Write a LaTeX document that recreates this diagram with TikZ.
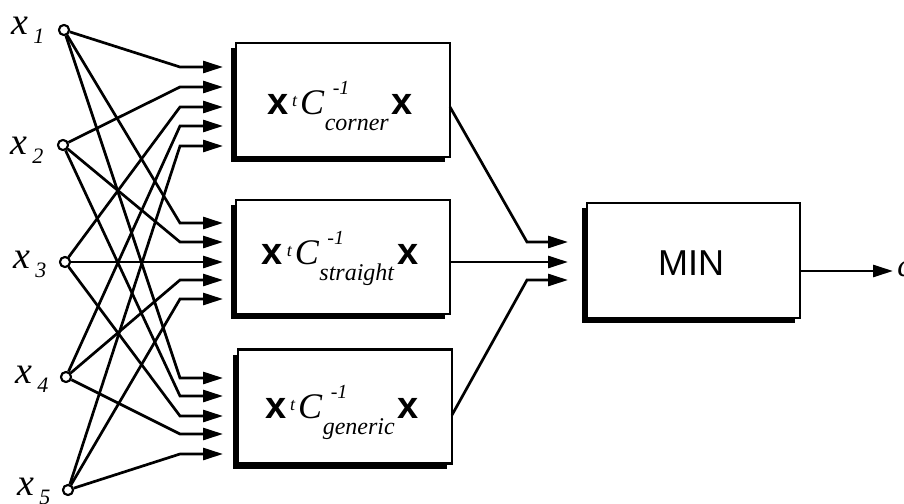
\documentclass[tikz,border=0pt]{standalone}
\usepackage{fontspec}
\setmainfont{Liberation Serif}
\setsansfont{Liberation Sans}
\usetikzlibrary{arrows.meta,calc,shadows}
\newcommand\bx{{\fontsize{19}{19}\selectfont\sffamily\bfseries x}}
\newcommand\qf[1]{\bx\hspace{2pt}\raisebox{4pt}{\fontsize{9}{9}\selectfont\itshape t}\hspace{1.5pt}{\fontsize{18}{18}\selectfont\itshape C}\hspace{0.3pt}\rlap{\hspace{4pt}\raisebox{10pt}{\fontsize{10}{10}\selectfont\itshape -1}}\raisebox{-8pt}{\fontsize{12}{12}\selectfont\itshape #1}\hspace{1.5pt}\bx}
\newcommand\lbl[1]{{\fontsize{19}{19}\selectfont\itshape x}\hspace{2.5pt}\raisebox{-4.5pt}{\fontsize{11}{11}\selectfont\itshape #1}}
\begin{document}
\begin{tikzpicture}[x=0.5pt,y=-0.5pt,
  conn/.style={line width=1.35pt,-{Triangle[length=10pt,width=6pt]}},
  inp/.style={circle,draw,fill=white,line width=1pt,minimum size=5pt,inner sep=0pt},
  qbox/.style={draw,fill=white,line width=1.1pt,minimum width=107pt,minimum height=57pt,inner sep=0pt,outer sep=0pt,
    general shadow={fill=black,shadow xshift=-2.7pt,shadow yshift=-2.7pt}},
  lab/.style={inner sep=0pt,anchor=base west},
  form/.style={inner sep=0pt,anchor=base}]
\useasboundingbox (0,0) rectangle (904,503);
% boxes
\node[qbox] (b1) at (343,100) {};
\node[qbox] (b2) at (343,257) {};
\node[qbox] (b3) at (345,406.5) {};
\node[qbox,minimum width=106.5pt,minimum height=57.5pt] (mn) at (693.5,260.5) {};
\node[form] (f1) at (340,114) {\qf{corner}};
\node[form] (f2) at (340,264) {\qf{straight}};
\node[form] (f3) at (342,418) {\qf{generic}};
\node[inner sep=0pt,font=\fontsize{18}{18}\selectfont\sffamily] (mt) at (691,263) {MIN};
% inputs
\node[inp] (X1) at (64,30) {};
\node[inp] (X2) at (63,145) {};
\node[inp] (X3) at (65,262) {};
\node[inp] (X4) at (66,377) {};
\node[inp] (X5) at (68,490) {};
\node[lab] (L1) at (11,34) {\lbl{1}};
\node[lab] (L2) at (10,154) {\lbl{2}};
\node[lab] (L3) at (13,268) {\lbl{3}};
\node[lab] (L4) at (15,383) {\lbl{4}};
\node[lab] (L5) at (17,495) {\lbl{5}};
% arrow tips into the three boxes
\foreach \i/\y in {1/67,2/87,3/107,4/126,5/146}{\coordinate (a\i) at (223,\y);}
\foreach \i/\y in {1/223,2/242,3/262,4/280,5/299}{\coordinate (s\i) at (223,\y);}
\foreach \i/\y in {1/378,2/396,3/416,4/434,5/454}{\coordinate (g\i) at (223,\y);}
\foreach \i in {1,...,5}{
  \draw[conn] (X\i) -- ($(a\i)+(-43,0)$) -- (a\i);
  \draw[conn] (X\i) -- ($(s\i)+(-43,0)$) -- (s\i);
  \draw[conn] (X\i) -- ($(g\i)+(-43,0)$) -- (g\i);
}
\foreach \i in {1,...,5}{\node[inp] at (X\i) {};}
% box outputs into MIN
\coordinate (m1) at (568,242);
\coordinate (m2) at (568,262);
\coordinate (m3) at (568,280);
\coordinate (o1) at ($(b1.east)+(0,7)$);
\coordinate (o2) at ($(b2.east)+(0,5)$);
\coordinate (o3) at ($(b3.east)+(0,8.5)$);
\draw[conn] (o1) -- ($(m1)+(-41,0)$) -- (m1);
\draw[conn] (o2) -- (m2);
\draw[conn] (o3) -- ($(m3)+(-41,0)$) -- (m3);
% output
\coordinate (mo) at ($(mn.east)+(0,10.5)$);
\coordinate (out) at (893,271);
\draw[conn] (mo) -- (out);
\node[inner sep=0pt,anchor=base west,font=\fontsize{16}{16}\selectfont\itshape] (c) at (897,276) {c};
\end{tikzpicture}
\end{document}
